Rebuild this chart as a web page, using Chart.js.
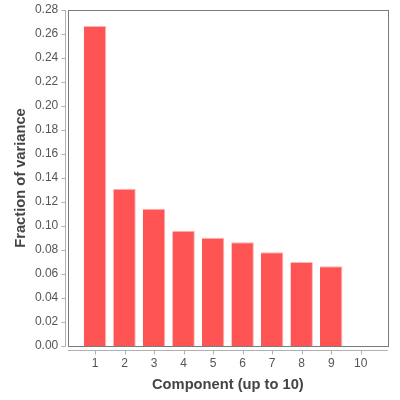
<!DOCTYPE html>
<html>
<head>
<meta charset="utf-8">
<script src="https://cdn.jsdelivr.net/npm/chart.js@4/dist/chart.umd.min.js"></script>
<style>
html,body{margin:0;padding:0;background:#fff;}
canvas{display:block;}
</style>
</head>
<body>
<canvas id="c" width="400" height="400"></canvas>
<script>
const categories = ["1","2","3","4","5","6","7","8","9","10"];
const fractions = [0.2667, 0.131, 0.1144, 0.0961, 0.0903, 0.0864, 0.0781, 0.070, 0.0664, 0];
const yMin = 0, yMax = 0.28, yStep = 0.02;
const xTitle = "Component (up to 10)";
const yTitle = "Fraction of variance";

const FONT = "'Liberation Sans', Arial, sans-serif";

const framePlugin = {
  id: 'frame',
  beforeDatasetsDraw(chart) {
    const {ctx, chartArea: a, scales} = chart;
    const ext = 12.25;
    const fl = a.left - ext, fr = a.right + ext;
    ctx.save();
    ctx.strokeStyle = '#b0b0b0';
    ctx.lineWidth = 1;
    ctx.beginPath();
    const yx = Math.round(fl - 3) + 0.5;
    ctx.moveTo(yx, a.top); ctx.lineTo(yx, a.bottom);
    scales.y.ticks.forEach((t, i) => {
      const py = Math.round(scales.y.getPixelForTick(i)) + 0.5;
      ctx.moveTo(yx - 4, py); ctx.lineTo(yx, py);
    });
    const xy = Math.round(a.bottom + 4) + 0.5;
    ctx.moveTo(fl, xy); ctx.lineTo(fr, xy);
    scales.x.ticks.forEach((t, i) => {
      const px = Math.round(scales.x.getPixelForTick(i)) + 0.5;
      ctx.moveTo(px, xy); ctx.lineTo(px, xy + 4);
    });
    ctx.stroke();
    ctx.restore();
  },
  afterDatasetsDraw(chart) {
    const {ctx, chartArea: a} = chart;
    const ext = 12.25;
    ctx.save();
    ctx.strokeStyle = '#7a7a7a';
    ctx.lineWidth = 1;
    ctx.strokeRect(Math.round(a.left - ext) + 0.5, Math.round(a.top) + 0.5,
                   Math.round(a.right + ext) - Math.round(a.left - ext), Math.round(a.bottom) - Math.round(a.top));
    ctx.restore();
  }
};

new Chart(document.getElementById('c'), {
  type: 'bar',
  data: {
    labels: categories,
    datasets: [{
      data: fractions,
      backgroundColor: '#ff5454',
      borderColor: '#ffb4b4',
      borderWidth: {top: 1, right: 1, left: 0, bottom: 0},
      borderSkipped: 'bottom',
      categoryPercentage: 1,
      barPercentage: 0.76
    }]
  },
  options: {
    responsive: false,
    animation: false,
    devicePixelRatio: 1,
    layout: {padding: {top: 10, right: 24.5, left: 0, bottom: 0}},
    plugins: {legend: {display: false}, tooltip: {enabled: false}},
    scales: {
      x: {
        type: 'category',
        offset: true,
        grid: {display: false, drawTicks: false},
        border: {display: false},
        ticks: {color: '#555', font: {family: FONT, size: 12}, padding: 10, maxRotation: 0},
        title: {display: true, text: xTitle, color: '#444', font: {family: FONT, size: 14.7, weight: 'bold'}, padding: {top: 6, bottom: 6}},
        afterFit(s) { s.height = 54; s.paddingLeft = 0; s.paddingRight = 0; }
      },
      y: {
        min: yMin, max: yMax,
        grid: {display: false, drawTicks: false},
        border: {display: false},
        ticks: {stepSize: yStep, color: '#555', font: {family: FONT, size: 12}, padding: 22,
                callback: v => Number(v).toFixed(2)},
        title: {display: true, text: yTitle, color: '#444', font: {family: FONT, size: 14.7, weight: 'bold'}, padding: {top: 12, bottom: 12}},
        afterFit(s) { s.width = 80.25; s.paddingTop = 0; s.paddingBottom = 0; }
      }
    }
  },
  plugins: [framePlugin]
});
</script>
</body>
</html>
